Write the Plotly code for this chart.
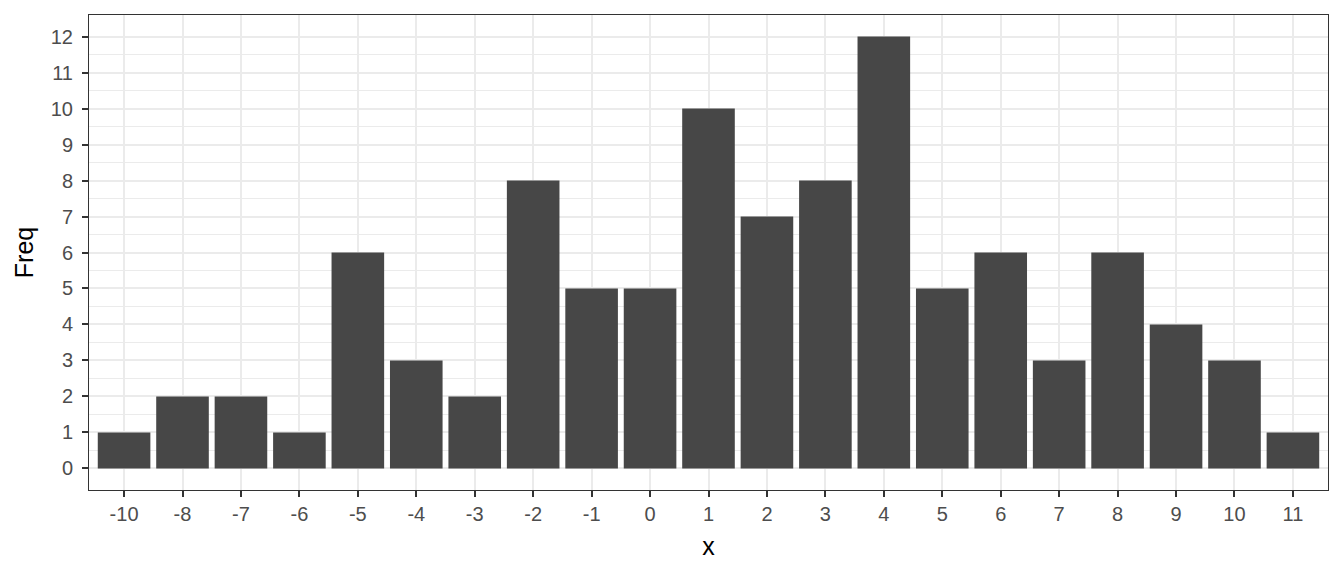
import plotly.graph_objects as go

categories = ["-10", "-8", "-7", "-6", "-5", "-4", "-3", "-2", "-1", "0", "1",
              "2", "3", "4", "5", "6", "7", "8", "9", "10", "11"]
freq = [1, 2, 2, 1, 6, 3, 2, 8, 5, 5, 10, 7, 8, 12, 5, 6, 3, 6, 4, 3, 1]
y_ticks = list(range(0, 13))

fig = go.Figure()
fig.add_trace(go.Bar(x=categories, y=freq, marker=dict(color="#474747", line=dict(width=0)),
                     width=0.9))

fig.update_layout(
    width=1336, height=568,
    margin=dict(l=81, r=16, t=7, b=86),
    plot_bgcolor="white", paper_bgcolor="white",
    font=dict(family="Liberation Sans, Arial, sans-serif", color="#4D4D4D", size=20),
    showlegend=False, bargap=0.1,
)
fig.update_xaxes(
    type="category", range=[-0.6, 20.6],
    showgrid=True, gridcolor="#EBEBEB", gridwidth=2,
    ticks="outside", ticklen=6, tickcolor="#333333", tickwidth=2,
    showline=True, linecolor="#333333", linewidth=1, mirror=True,
    title=dict(text="x", font=dict(size=25, color="black"), standoff=13),
    tickfont=dict(size=20, color="#4D4D4D"), zeroline=False,
)
fig.update_yaxes(
    range=[-0.6, 12.6], tickvals=y_ticks,
    showgrid=True, gridcolor="#EBEBEB", gridwidth=2,
    minor=dict(tickvals=[v + 0.5 for v in y_ticks[:-1]], showgrid=True, gridcolor="#EBEBEB", gridwidth=1, ticks=""),
    ticks="outside", ticklen=6, tickcolor="#333333", tickwidth=2,
    ticklabelstandoff=5,
    showline=True, linecolor="#333333", linewidth=1, mirror=True,
    title=dict(text="Freq", font=dict(size=25, color="black"), standoff=10),
    tickfont=dict(size=20, color="#4D4D4D"), zeroline=False,
)

fig.write_html("out.html")
